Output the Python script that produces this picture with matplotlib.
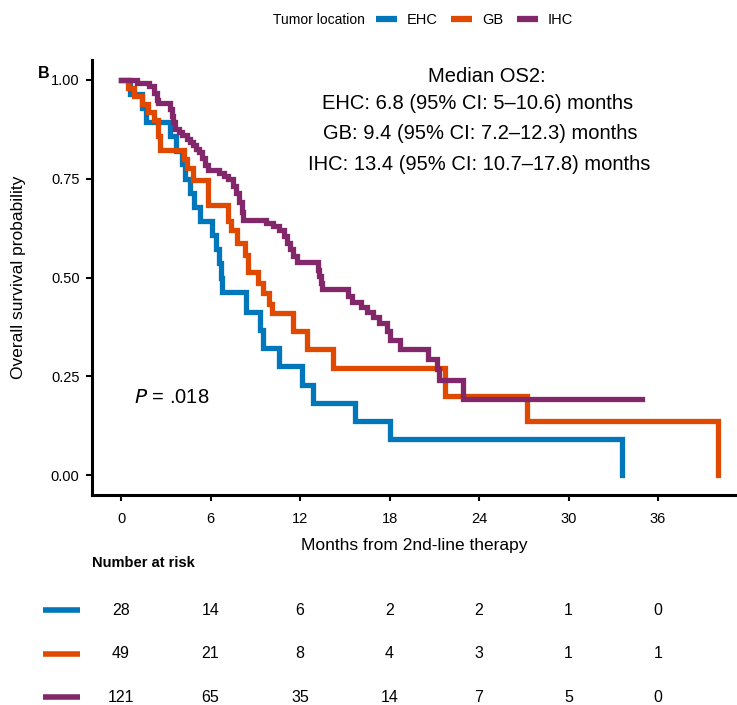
import matplotlib
matplotlib.use("Agg")
import matplotlib.pyplot as plt
from matplotlib.offsetbox import HPacker

plt.rcParams['font.family'] = ['Liberation Sans', 'DejaVu Sans']

# Kaplan-Meier curves (months, survival after step)
ehc_t = [0, 0.6, 1.4, 1.7, 3.3, 3.7, 4.1, 4.3, 4.6, 4.9, 5.3, 6.1, 6.4, 6.6,
         6.7, 6.8, 8.4, 9.3, 9.5, 10.6, 12.1, 12.9, 15.7, 18.0, 33.6]
ehc_s = [1.0, 0.964, 0.929, 0.893, 0.857, 0.821, 0.786, 0.750, 0.714, 0.679,
         0.643, 0.607, 0.571, 0.536, 0.500, 0.464, 0.413, 0.367, 0.321, 0.275,
         0.229, 0.183, 0.138, 0.092, 0.0]

gb_t = [0, 0.5, 0.9, 1.4, 1.8, 2.2, 2.5, 2.6, 4.2, 4.4, 4.8, 5.8, 7.2, 7.4,
        7.8, 8.3, 8.5, 9.2, 9.5, 9.9, 10.1, 11.5, 12.5, 14.2, 21.7, 27.2, 40.0]
gb_s = [1.0, 0.980, 0.959, 0.939, 0.918, 0.898, 0.857, 0.823, 0.800, 0.776,
        0.747, 0.684, 0.643, 0.620, 0.588, 0.556, 0.515, 0.487, 0.460, 0.432,
        0.410, 0.364, 0.318, 0.270, 0.200, 0.136, 0.0]

ihc_t = [0, 1.1, 1.9, 2.2, 2.4, 2.5, 3.3, 3.4, 3.5, 3.6, 3.9, 4.1, 4.4, 4.6,
         4.8, 5.0, 5.2, 5.4, 5.6, 5.8, 6.6, 6.9, 7.2, 7.5, 7.7, 7.9, 8.1, 8.2,
         9.7, 10.2, 10.6, 10.9, 11.1, 11.3, 11.5, 11.8, 13.2, 13.3, 13.4, 13.5,
         15.2, 15.5, 16.1, 16.5, 16.9, 17.3, 17.8, 18.0, 18.7, 20.6, 21.2,
         21.3, 22.9, 34.9]
ihc_s = [1.0, 0.992, 0.983, 0.967, 0.950, 0.942, 0.926, 0.909, 0.893, 0.876,
         0.868, 0.860, 0.851, 0.843, 0.835, 0.826, 0.818, 0.802, 0.785, 0.773,
         0.765, 0.756, 0.748, 0.731, 0.714, 0.690, 0.665, 0.646, 0.638, 0.630,
         0.621, 0.605, 0.588, 0.572, 0.555, 0.538, 0.520, 0.503, 0.486, 0.470,
         0.453, 0.437, 0.425, 0.412, 0.400, 0.386, 0.365, 0.343, 0.318, 0.293,
         0.268, 0.242, 0.192, 0.192]

groups = ['EHC', 'GB', 'IHC']
colors = {'EHC': '#0077BB', 'GB': '#DF4A00', 'IHC': '#82286A'}

risk_times = [0, 6, 12, 18, 24, 30, 36]
risk_ehc = [28, 14, 6, 2, 2, 1, 0]
risk_gb = [49, 21, 8, 4, 3, 1, 1]
risk_ihc = [121, 65, 35, 14, 7, 5, 0]

median_lines = ['Median OS2:',
                'EHC: 6.8 (95% CI: 5\u201310.6) months',
                'GB: 9.4 (95% CI: 7.2\u201312.3) months',
                'IHC: 13.4 (95% CI: 10.7\u201317.8) months']

W, H = 737, 705
fig = plt.figure(figsize=(W / 100, H / 100), dpi=100)

# main survival panel
ax = fig.add_axes([92 / W, 210 / H, 645 / W, 435 / H])
curves = {'EHC': (ehc_t, ehc_s), 'GB': (gb_t, gb_s), 'IHC': (ihc_t, ihc_s)}
for g in groups:
    t, s = curves[g]
    ax.plot(t, s, drawstyle='steps-post', color=colors[g], lw=3.8,
            solid_joinstyle='miter', label=g)

ax.set_xlim(-1.944, 41.29)
ax.set_ylim(-0.05, 1.05)
ax.set_xticks(risk_times)
ax.set_yticks([0, 0.25, 0.5, 0.75, 1.0])
ax.set_yticklabels(['0.00', '0.25', '0.50', '0.75', '1.00'])
for side in ['top', 'right']:
    ax.spines[side].set_visible(False)
for side in ['left', 'bottom']:
    ax.spines[side].set_linewidth(2.2)
ax.tick_params(length=4, width=1.5, labelsize=10.5, colors='black')
ax.tick_params(axis='x', pad=8)
ax.tick_params(axis='y', pad=5)
ax.set_xlabel('Months from 2nd-line therapy', fontsize=12.5, labelpad=9)
ax.set_ylabel('Overall survival probability', fontsize=12.5, labelpad=18)

# median OS annotation, one line at a time
line_x = [24.5, 23.9, 24.1, 24.0]
line_y = [1.008, 0.939, 0.864, 0.785]
for txt, lx, ly in zip(median_lines, line_x, line_y):
    ax.text(lx, ly, txt, ha='center', va='center', fontsize=14.5)
ax.text(0.9, 0.197, r'$P$ = .018', ha='left', va='center', fontsize=14.5)

fig.text(38 / W, 1 - 73 / H, 'B', fontsize=11.5, fontweight='bold',
         ha='left', va='center')

# legend on top, title to the left of the keys
handles, labels = ax.get_legend_handles_labels()
leg = fig.legend(handles, labels, loc='center', bbox_to_anchor=(423 / W, 1 - 20 / H),
                 ncol=3, frameon=False, fontsize=10.5, handlelength=1.45,
                 handletextpad=0.7, columnspacing=0.9, title='Tumor location',
                 title_fontsize=10)
for line in leg.get_lines():
    line.set_linewidth(4.5)
    line.set_solid_capstyle('butt')
leg._legend_box._children = [HPacker(pad=0, sep=8,
                                     children=[leg._legend_title_box,
                                               leg._legend_handle_box],
                                     align='center')]

# number at risk table
fig.text(92 / W, 1 - 563 / H, 'Number at risk', fontsize=10.5, fontweight='bold',
         ha='left', va='center')
rax = fig.add_axes([92 / W, 0, 645 / W, 139 / H])
rax.set_xlim(ax.get_xlim())
rax.set_ylim(2.18, -1.01)
rax.axis('off')
risks = {'EHC': risk_ehc, 'GB': risk_gb, 'IHC': risk_ihc}
for i, g in enumerate(groups):
    for tt, n in zip(risk_times, risks[g]):
        rax.text(tt, i, str(n), ha='center', va='center', fontsize=11.5)
    rax.plot([-5.23, -2.75], [i, i], color=colors[g], lw=4, clip_on=False,
             solid_capstyle='butt')

fig.savefig('out.png', dpi=100)
